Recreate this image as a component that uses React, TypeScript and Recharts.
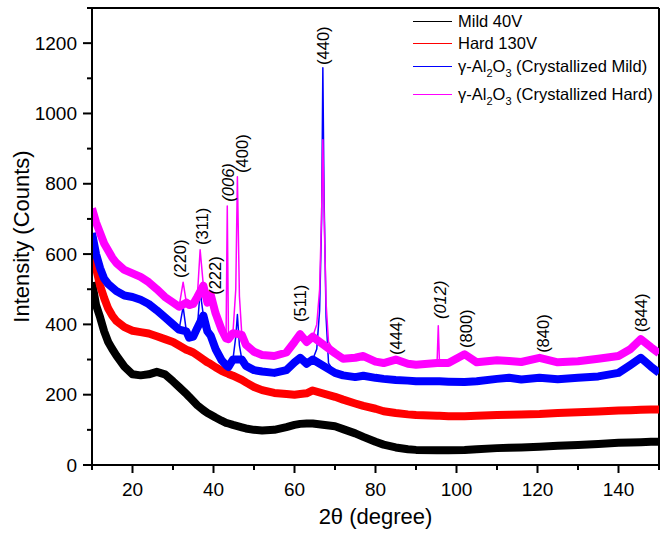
import { LineChart, Line, XAxis, YAxis, ReferenceLine, ReferenceDot, Legend } from "recharts";

const FONT = '"Liberation Sans", Arial, Helvetica, sans-serif';

// 2θ (degree), shared by all four patterns
const theta = [
  10, 11, 12, 13, 14, 15, 16, 18, 20, 22,
  24, 26, 28, 30, 31.5, 32.5, 33.3, 34, 35, 36,
  36.7, 37.5, 38.5, 39.3, 40.5, 42, 43.1, 43.4, 43.7, 44.8,
  45.5, 45.9, 46.4, 47, 48, 50, 52, 55, 58, 60,
  61.4, 63, 64.5, 65.5, 66.2, 66.7, 67, 67.3, 67.8, 68.4,
  70, 72, 75, 77, 80, 82, 85, 88, 90, 95.2,
  95.5, 95.8, 98, 102, 105, 110, 113, 116, 120.5, 125,
  130, 135, 140, 143, 145.5, 148, 150,
];

const mild40 = [
  520, 455, 420, 380, 350, 330, 312, 280, 258, 255,
  258, 265, 258, 238, 222, 212, 202, 194, 182, 170,
  162, 156, 148, 143, 135, 126, 120, 119, 118, 114,
  112, 111, 109, 107, 104, 100, 98, 100, 108, 114,
  117, 118, 118, 117, 116, 116, 115, 115, 114, 113,
  110, 102, 90, 80, 66, 58, 50, 45, 43, 42,
  42, 42, 42, 43, 45, 48, 49, 50, 52, 55,
  57, 60, 63, 64, 65, 66, 66,
];

const hard130 = [
  610, 560, 510, 475, 445, 425, 410, 392, 382, 378,
  374, 366, 358, 350, 340, 333, 328, 325, 320, 312,
  305, 300, 292, 287, 278, 268, 262, 260, 259, 254,
  250, 248, 246, 242, 235, 222, 213, 205, 202, 200,
  202, 204, 212, 207, 205, 205, 204, 204, 203, 201,
  194, 186, 175, 168, 160, 153, 148, 144, 142, 140,
  140, 140, 139, 139, 140, 142, 143, 144, 145, 148,
  150, 152, 155, 156, 157, 158, 158,
];

const crystMild = [
  660, 600, 560, 530, 515, 505, 495, 482, 478, 470,
  458, 440, 420, 400, 385, 450, 380, 362, 365, 390,
  495, 425, 380, 368, 330, 298, 284, 281, 279, 300,
  365, 428, 340, 300, 282, 270, 266, 262, 270, 292,
  305, 288, 300, 330, 440, 700, 1130, 760, 420, 290,
  262, 255, 250, 254, 248, 245, 242, 240, 238, 238,
  238, 238, 237, 236, 238, 245, 248, 243, 248, 244,
  248, 252, 262, 285, 305, 280, 262,
];

const crystHard = [
  730, 690, 660, 630, 610, 590, 575, 555, 545, 535,
  520, 500, 478, 462, 450, 520, 462, 455, 458, 478,
  612, 510, 462, 485, 432, 385, 360, 737, 358, 375,
  500, 820, 480, 370, 342, 322, 313, 310, 320, 350,
  372, 350, 365, 400, 500, 720, 925, 720, 460, 350,
  318, 302, 305, 310, 294, 290, 300, 288, 285, 290,
  396, 290, 290, 315, 292, 298, 296, 293, 305, 292,
  295, 302, 310, 330, 358, 335, 318,
];

// narrow reflections, kept out of the thick noise band
const sharpPeaks = [
  32.5, 36.7, 43.4, 45.5, 45.9, 46.4, 65.5, 66.2, 66.7, 67, 67.3, 67.8, 68.4, 95.5,
];

const xTicks = [10, 20, 30, 40, 50, 60, 70, 80, 90, 100, 110, 120, 130, 140, 150];
const yTicks = [0, 100, 200, 300, 400, 500, 600, 700, 800, 900, 1000, 1100, 1200, 1300];

const peakLabels = [
  { hkl: "(220)", theta: 31.9, at: 532, italic: false },
  { hkl: "(311)", theta: 37.1, at: 626, italic: false },
  { hkl: "(222)", theta: 40.4, at: 484, italic: false },
  { hkl: "(006)", theta: 43.65, at: 749, italic: true },
  { hkl: "(400)", theta: 47.1, at: 831, italic: false },
  { hkl: "(511)", theta: 61.4, at: 407, italic: false },
  { hkl: "(440)", theta: 67.05, at: 1138, italic: false },
  { hkl: "(444)", theta: 85.2, at: 313, italic: false },
  { hkl: "(012)", theta: 95.9, at: 415, italic: true },
  { hkl: "(800)", theta: 102.3, at: 333, italic: false },
  { hkl: "(840)", theta: 121.4, at: 319, italic: false },
  { hkl: "(844)", theta: 145.6, at: 378, italic: false },
];

const series = [
  { key: "mild", name: "Mild 40V", formula: false, color: "#000000", values: mild40 },
  { key: "hard", name: "Hard 130V", formula: false, color: "#ff0000", values: hard130 },
  { key: "cMild", name: "(Crystallized Mild)", formula: true, color: "#0000ff", values: crystMild },
  { key: "cHard", name: "(Crystallized Hard)", formula: true, color: "#ff00ff", values: crystHard },
];

const data = theta.map((t, i) => {
  const row: Record<string, number | null> = { theta: t };
  series.forEach((s) => {
    row[s.key] = s.values[i];
    row[s.key + "Band"] = sharpPeaks.includes(t) ? null : s.values[i];
  });
  return row;
});

function XTick({ x, y, payload }: any) {
  const major = payload.value % 20 === 0;
  return (
    <g>
      <line x1={x} x2={x} y1={y} y2={y + (major ? 8 : 5)} stroke="#000" strokeWidth={2} />
      {major && (
        <text x={x} y={y + 31} textAnchor="middle" fontSize={19} fontFamily={FONT} fill="#000">
          {payload.value}
        </text>
      )}
    </g>
  );
}

function YTick({ x, y, payload }: any) {
  const major = payload.value % 200 === 0;
  return (
    <g>
      <line x1={x - (major ? 9 : 5)} x2={x} y1={y} y2={y} stroke="#000" strokeWidth={2} />
      {major && payload.value < 1300 && (
        <text x={x - 15} y={y} dy="0.35em" textAnchor="end" fontSize={19} fontFamily={FONT} fill="#000">
          {payload.value}
        </text>
      )}
    </g>
  );
}

function PeakTag({ cx, cy, text, italic }: any) {
  return (
    <text
      x={cx}
      y={cy}
      dy="0.35em"
      transform={`rotate(-90 ${cx} ${cy})`}
      fontSize={16.5}
      fontFamily={FONT}
      fontStyle={italic ? "italic" : "normal"}
      fill="#000"
    >
      {text}
    </text>
  );
}

const legendRowY = [21, 43, 66, 94];

function LegendBox() {
  return (
    <div style={{ position: "relative", width: 250, height: 105, fontFamily: FONT, fontSize: 16.5, color: "#000" }}>
      {series.map((s, i) => (
        <div
          key={s.key}
          style={{
            position: "absolute",
            left: 0,
            top: legendRowY[i] - 11,
            height: 22,
            display: "flex",
            alignItems: "center",
            whiteSpace: "nowrap",
          }}
        >
          <span style={{ display: "inline-block", width: 39, borderTop: `1px solid ${s.color}`, marginRight: 6 }} />
          {s.formula ? (
            <span>
              γ-Al<sub style={{ fontSize: 11, verticalAlign: "baseline", position: "relative", top: 5 }}>2</sub>O
              <sub style={{ fontSize: 11, verticalAlign: "baseline", position: "relative", top: 5 }}>3</sub> {s.name}
            </span>
          ) : (
            <span>{s.name}</span>
          )}
        </div>
      ))}
    </div>
  );
}

export default function App() {
  return (
    <div style={{ position: "absolute", left: 0, top: 0, width: 660, height: 538, background: "#fff" }}>
      <LineChart width={660} height={538} data={data} margin={{ top: 8, right: 1, bottom: 0, left: 0 }}>
        <XAxis
          dataKey="theta"
          type="number"
          domain={[10, 150]}
          ticks={xTicks}
          interval={0}
          allowDataOverflow
          height={73}
          tickSize={0}
          tickMargin={0}
          tickLine={false}
          tick={<XTick />}
          axisLine={{ stroke: "#000", strokeWidth: 2 }}
          label={{
            content: (p: any) => {
              const vb = p.viewBox;
              return (
                <text x={vb.x + vb.width / 2} y={vb.y + vb.height - 14} textAnchor="middle" fontSize={22} fontFamily={FONT} fill="#000">
                  2θ (degree)
                </text>
              );
            },
          }}
        />
        <YAxis
          type="number"
          domain={[0, 1300]}
          ticks={yTicks}
          interval={0}
          allowDataOverflow
          width={92}
          tickSize={0}
          tickMargin={0}
          tickLine={false}
          tick={<YTick />}
          axisLine={{ stroke: "#000", strokeWidth: 2 }}
          label={{
            content: (p: any) => {
              const vb = p.viewBox;
              const cy = vb.y + vb.height / 2;
              return (
                <text x={21} y={cy} dy="0.35em" transform={`rotate(-90 21 ${cy})`} textAnchor="middle" fontSize={22} fontFamily={FONT} fill="#000">
                  Intensity (Counts)
                </text>
              );
            },
          }}
        />
        <ReferenceLine y={1300} stroke="#000" strokeWidth={2} />
        <ReferenceLine x={150} stroke="#000" strokeWidth={2} />
        {series.map((s) => [
          <Line
            key={s.key + "Band"}
            dataKey={s.key + "Band"}
            type="linear"
            stroke={s.color}
            strokeWidth={8}
            strokeLinejoin="round"
            dot={false}
            activeDot={false}
            connectNulls
            legendType="none"
            isAnimationActive={false}
          />,
          <Line
            key={s.key}
            dataKey={s.key}
            name={s.name}
            type="linear"
            stroke={s.color}
            strokeWidth={1.5}
            strokeLinejoin="round"
            dot={false}
            activeDot={false}
            isAnimationActive={false}
          />,
        ])}
        {peakLabels.map((p) => (
          <ReferenceDot
            key={p.hkl}
            x={p.theta}
            y={p.at}
            r={0}
            ifOverflow="visible"
            shape={(props: any) => <PeakTag cx={props.cx} cy={props.cy} text={p.hkl} italic={p.italic} />}
          />
        ))}
        <Legend
          layout="horizontal"
          verticalAlign="middle"
          align="center"
          content={<LegendBox />}
          wrapperStyle={{ top: 0, left: 413, width: 250, height: 105 }}
        />
      </LineChart>
    </div>
  );
}
